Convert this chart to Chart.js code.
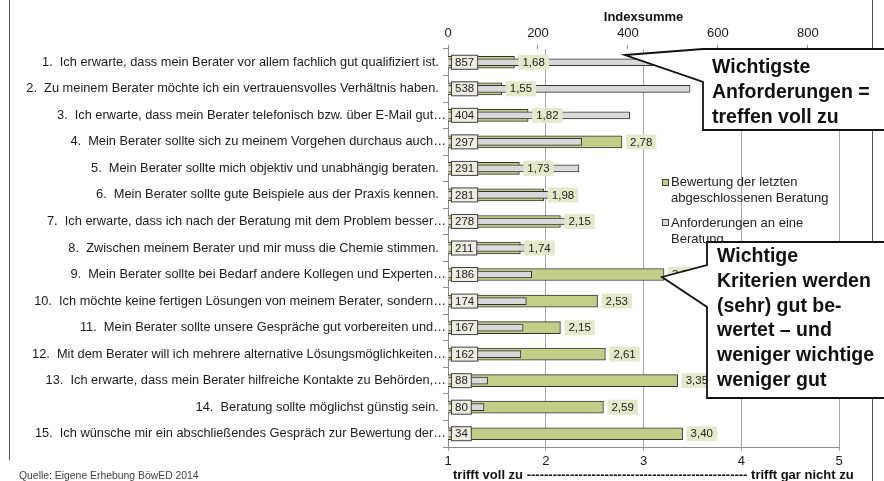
<!DOCTYPE html>
<html>
<head>
<meta charset="utf-8">
<script src="https://cdn.jsdelivr.net/npm/chart.js@4/dist/chart.umd.min.js"></script>
<style>
  html, body { margin: 0; padding: 0; background: #ffffff; }
  #wrap { position: relative; width: 884px; height: 481px; }
  canvas { display: block; }
</style>
</head>
<body>
<div id="wrap"><canvas id="c" width="884" height="481"></canvas></div>
<script>
// ---------- data ----------
const categories = [
  "1.  Ich erwarte, dass mein Berater vor allem fachlich gut qualifiziert ist.  ",
  "2.  Zu meinem Berater möchte ich ein vertrauensvolles Verhältnis haben.  ",
  "3.  Ich erwarte, dass mein Berater telefonisch bzw. über E-Mail gut…",
  "4.  Mein Berater sollte sich zu meinem Vorgehen durchaus auch…",
  "5.  Mein Berater sollte mich objektiv und unabhängig beraten.  ",
  "6.  Mein Berater sollte gute Beispiele aus der Praxis kennen.  ",
  "7.  Ich erwarte, dass ich nach der Beratung mit dem Problem besser…",
  "8.  Zwischen meinem Berater und mir muss die Chemie stimmen.  ",
  "9.  Mein Berater sollte bei Bedarf andere Kollegen und Experten…",
  "10.  Ich möchte keine fertigen Lösungen von meinem Berater, sondern…",
  "11.  Mein Berater sollte unsere Gespräche gut vorbereiten und…",
  "12.  Mit dem Berater will ich mehrere alternative Lösungsmöglichkeiten…",
  "13.  Ich erwarte, dass mein Berater hilfreiche Kontakte zu Behörden,…",
  "14.  Beratung sollte möglichst günstig sein.  ",
  "15.  Ich wünsche mir ein abschließendes Gespräch zur Bewertung der…"
];
const bewertung = [1.68, 1.55, 1.82, 2.78, 1.73, 1.98, 2.15, 1.74, 3.21, 2.53, 2.15, 2.61, 3.35, 2.59, 3.40];
const indexsumme = [857, 538, 404, 297, 291, 281, 278, 211, 186, 174, 167, 162, 88, 80, 34];
const seriesNames = ["Bewertung der letzten abgeschlossenen Beratung", "Anforderungen an eine Beratung"];
const bottomTicks = [1, 2, 3, 4, 5];
const topTicks = [0, 200, 400, 600, 800];
const topTitle = "Indexsumme";
const bottomCaption = "trifft voll zu " + "-".repeat(51) + " trifft gar nicht zu";
const sourceText = "Quelle: Eigene Erhebung BöwED 2014";
const callout1 = ["Wichtigste", "Anforderungen =", "treffen voll zu"];
const callout2 = ["Wichtige", "Kriterien werden", "(sehr) gut be-", "wertet – und", "weniger wichtige", "weniger gut"];

// ---------- styles ----------
const GREEN = "#c2ce88";
const GREEN_LABEL = "#e3e9c9";
const GRAY = "#d9d9d9";
const INDEX_BOX = "#eeece1";
const FONT = "'Liberation Sans', Arial, sans-serif";

const fmt = v => v.toFixed(2).replace('.', ',');

const decorPlugin = {
  id: 'decor',
  beforeDraw(chart) {
    const ctx = chart.ctx;
    ctx.save();
    ctx.fillStyle = '#ffffff';
    ctx.fillRect(0, 0, chart.width, chart.height);
    ctx.strokeStyle = '#555555';
    ctx.lineWidth = 1;
    ctx.beginPath();
    ctx.moveTo(9.5, 0); ctx.lineTo(9.5, 460);
    ctx.moveTo(872.5, 0); ctx.lineTo(872.5, 481);
    ctx.stroke();
    ctx.restore();
  },
  afterDatasetsDraw(chart) {
    const ctx = chart.ctx;
    const area = chart.chartArea;
    ctx.save();
    ctx.font = "11.5px " + FONT;
    ctx.textBaseline = 'middle';
    ctx.textAlign = 'left';
    // rating labels (green)
    const gMeta = chart.getDatasetMeta(0);
    gMeta.data.forEach((bar, i) => {
      const t = fmt(bewertung[i]);
      const w = ctx.measureText(t).width + 8;
      const x = bar.x + 4, y = bar.y;
      ctx.fillStyle = GREEN_LABEL;
      ctx.fillRect(x, y - 7.5, w, 15);
      ctx.fillStyle = '#222222';
      ctx.fillText(t, x + 4, y + 0.5);
    });
    // index labels (boxes at left)
    const iMeta = chart.getDatasetMeta(1);
    iMeta.data.forEach((bar, i) => {
      const t = String(indexsumme[i]);
      const w = ctx.measureText(t).width + 7;
      const x = area.left + 3, y = bar.y;
      ctx.fillStyle = INDEX_BOX;
      ctx.fillRect(x + 0.5, y - 7, w, 14);
      ctx.strokeStyle = '#404040';
      ctx.lineWidth = 1;
      ctx.strokeRect(x + 0.5, y - 7, w, 14);
      ctx.fillStyle = '#222222';
      ctx.fillText(t, x + 4, y + 0.5);
    });
    ctx.restore();
  },
  afterDraw(chart) {
    const ctx = chart.ctx;
    ctx.save();
    // legend
    ctx.font = "13px " + FONT;
    ctx.textBaseline = 'middle';
    ctx.textAlign = 'left';
    ctx.lineWidth = 1;
    ctx.strokeStyle = '#404040';
    ctx.fillStyle = GREEN;
    ctx.fillRect(662.5, 179.5, 6, 6);
    ctx.strokeRect(662.5, 179.5, 6, 6);
    ctx.fillStyle = GRAY;
    ctx.fillRect(662.5, 219.5, 6, 6);
    ctx.strokeRect(662.5, 219.5, 6, 6);
    ctx.fillStyle = '#222222';
    ctx.fillText("Bewertung der letzten", 671, 182);
    ctx.fillText("abgeschlossenen Beratung", 671, 198);
    ctx.fillText("Anforderungen an eine", 671, 223);
    ctx.fillText("Beratung", 671, 239);

    // bottom caption + source
    ctx.font = "bold 13px " + FONT;
    ctx.fillStyle = '#111111';
    ctx.fillText(bottomCaption, 453, 475);
    ctx.font = "10.4px " + FONT;
    ctx.fillStyle = '#404040';
    ctx.fillText(sourceText, 19, 476);

    // callouts
    const drawCallout = (pts, lines, tx, ty0) => {
      ctx.beginPath();
      ctx.moveTo(pts[0][0], pts[0][1]);
      for (let k = 1; k < pts.length; k++) ctx.lineTo(pts[k][0], pts[k][1]);
      ctx.closePath();
      ctx.fillStyle = '#ffffff';
      ctx.fill();
      ctx.lineWidth = 1.8;
      ctx.strokeStyle = '#111111';
      ctx.stroke();
      ctx.font = "bold 19.5px " + FONT;
      ctx.fillStyle = '#111111';
      ctx.textBaseline = 'middle';
      lines.forEach((l, k) => ctx.fillText(l, tx, ty0 + k * 24.7));
    };
    drawCallout([[625, 55], [703, 49], [895, 49], [895, 130], [703, 130], [703, 82]], callout1, 712, 68);
    drawCallout([[662, 277], [707, 265], [707, 242], [895, 242], [895, 398], [707, 398], [707, 307]], callout2, 717, 257);
    ctx.restore();
  }
};

const chart = new Chart(document.getElementById('c'), {
  type: 'bar',
  data: {
    labels: categories,
    datasets: [
      {
        label: seriesNames[0],
        data: bewertung,
        xAxisID: 'x',
        backgroundColor: GREEN,
        borderColor: '#333333',
        borderWidth: 1,
        barThickness: 12,
        grouped: false,
        order: 1
      },
      {
        label: seriesNames[1],
        data: indexsumme,
        xAxisID: 'x2',
        backgroundColor: GRAY,
        borderColor: '#333333',
        borderWidth: 1,
        barThickness: 7,
        grouped: false,
        order: 0
      }
    ]
  },
  options: {
    indexAxis: 'y',
    responsive: false,
    animation: false,
    devicePixelRatio: 1,
    layout: { padding: { left: 0, right: 45, top: 0, bottom: 0 } },
    plugins: { legend: { display: false }, tooltip: { enabled: false } },
    scales: {
      y: {
        position: 'left',
        afterFit: s => { s.width = 448; },
        grid: { display: true, drawOnChartArea: false, tickLength: 5, color: '#8c8c8c', offset: true },
        border: { display: true, color: '#8c8c8c' },
        ticks: { autoSkip: false, padding: -3, color: '#1a1a1a', font: { family: FONT, size: 12.8 } }
      },
      x: {
        type: 'linear',
        position: 'bottom',
        min: 1, max: 5,
        afterFit: s => { s.height = 34; },
        afterBuildTicks: s => { s.ticks = bottomTicks.map(v => ({ value: v })); },
        grid: { display: true, drawOnChartArea: true, tickLength: 4, color: '#a6a6a6' },
        border: { display: true, color: '#8c8c8c' },
        ticks: { padding: 3, color: '#1a1a1a', font: { family: FONT, size: 13 } }
      },
      x2: {
        type: 'linear',
        position: 'top',
        min: 0, max: 869,
        afterFit: s => { s.height = 49; },
        afterBuildTicks: s => { s.ticks = topTicks.map(v => ({ value: v })); },
        grid: { display: true, drawOnChartArea: false, tickLength: 4, color: '#8c8c8c' },
        border: { display: false },
        ticks: { padding: 4, color: '#1a1a1a', font: { family: FONT, size: 13 } },
        title: { display: true, text: topTitle, color: '#111111', font: { family: FONT, size: 13, weight: 'bold', lineHeight: 1 }, padding: { top: 10.5, bottom: 0 } }
      }
    }
  },
  plugins: [decorPlugin]
});
</script>
</body>
</html>
